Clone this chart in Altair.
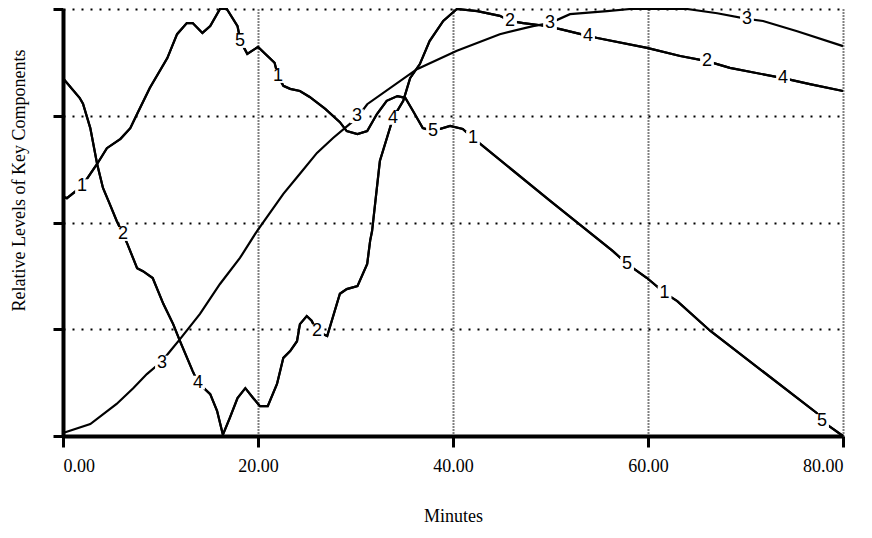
import altair as alt
import pandas as pd

# Curve shared by series 1 and 5
minutes_15 = [0, 0.4, 1.95, 2.8, 3.5, 4.5, 5.9, 6.9, 7.6, 8.9, 10.7, 11.7, 12.7, 13.3, 14.3, 15.1,
              16.1, 16.8, 17.9, 18.2, 18.9, 20.0, 21.7, 22.05, 22.6, 23.3, 24.3, 25.3, 26.9, 28.4,
              29.1, 30.2, 31.2, 32.2, 33.2, 34.3, 35.1, 35.9, 36.9, 37.95, 39.7, 41.0, 42.05, 42.8,
              50.0, 56.4, 57.85, 59.9, 61.7, 63.0, 66.4, 77.3, 77.85, 80]
values_15 = [0.56, 0.557, 0.585, 0.614, 0.637, 0.674, 0.696, 0.721, 0.754, 0.815, 0.885, 0.941, 0.967,
             0.967, 0.944, 0.960, 1.0, 1.0, 0.960, 0.925, 0.895, 0.911, 0.874, 0.843, 0.82, 0.813,
             0.808, 0.794, 0.766, 0.735, 0.714, 0.707, 0.714, 0.754, 0.785, 0.796, 0.792, 0.761,
             0.721, 0.714, 0.726, 0.719, 0.698, 0.684, 0.55, 0.433, 0.403, 0.37, 0.335, 0.316,
             0.246, 0.054, 0.035, 0.0]

# Curve shared by series 2 and 4
minutes_24 = [0, 1.7, 2.05, 2.8, 3.5, 4.1, 4.8, 5.5, 6.15, 6.6, 7.6, 8.2, 9.2, 10.3, 11.3, 12.0, 13.3,
              13.85, 15.1, 15.8, 16.4, 17.1, 17.9, 18.7, 19.5, 20.2, 21.0, 21.95, 22.6, 23.3, 24.0,
              24.3, 25.0, 25.5, 26.05, 27.1, 28.4, 29.1, 30.2, 31.2, 31.5, 31.7, 32.5, 33.85, 34.9,
              35.6, 36.6, 37.6, 39.0, 40.4, 42.5, 44.8, 45.85, 47.2, 49.0, 51.0, 53.85, 54.8, 59.9,
              63.3, 66.05, 68.4, 73.85, 76.6, 80]
values_24 = [0.838, 0.792, 0.778, 0.721, 0.637, 0.581, 0.543, 0.504, 0.473, 0.45, 0.393, 0.386, 0.37,
             0.309, 0.262, 0.222, 0.152, 0.125, 0.098, 0.059, 0.003, 0.042, 0.089, 0.112, 0.089,
             0.07, 0.07, 0.122, 0.183, 0.199, 0.222, 0.262, 0.281, 0.27, 0.245, 0.234, 0.333,
             0.344, 0.351, 0.403, 0.457, 0.48, 0.644, 0.745, 0.785, 0.838, 0.871, 0.925, 0.972,
             1.0, 0.995, 0.984, 0.972, 0.967, 0.962, 0.953, 0.937, 0.932, 0.909, 0.89, 0.878,
             0.862, 0.838, 0.824, 0.808]

# Series 3
minutes_3 = [0, 2.8, 5.5, 7.2, 8.6, 10.15, 11.0, 12.0, 14.05, 16.1, 18.15, 19.9, 22.6, 24.3, 26.05,
             27.7, 30.15, 31.2, 36.3, 40.4, 44.8, 48.2, 49.95, 52.0, 55.8, 58.2, 64.0, 67.1, 70.15,
             71.8, 75.3, 80]
values_3 = [0.007, 0.028, 0.075, 0.112, 0.145, 0.175, 0.199, 0.227, 0.286, 0.356, 0.417, 0.48, 0.567,
            0.614, 0.663, 0.698, 0.745, 0.777, 0.859, 0.902, 0.941, 0.96, 0.967, 0.988, 0.995, 1.0,
            1.0, 0.99, 0.977, 0.972, 0.948, 0.913]

# Curve number labels
label_text = ["1", "1", "1", "1", "2", "2", "2", "2", "3", "3", "3", "3",
              "4", "4", "4", "4", "5", "5", "5", "5"]
label_minute = [1.95, 22.05, 42.05, 61.7, 6.15, 26.05, 45.85, 66.05, 10.15, 30.15, 49.95, 70.15,
                13.85, 33.85, 53.85, 73.85, 18.15, 37.95, 57.85, 77.85]
label_value = [0.585, 0.843, 0.698, 0.335, 0.473, 0.245, 0.972, 0.878, 0.172, 0.749, 0.967, 0.977,
               0.125, 0.745, 0.937, 0.838, 0.925, 0.714, 0.403, 0.035]

x_ticks = [0, 20, 40, 60, 80]
y_ticks = [0, 0.25, 0.5, 0.75, 1.0]

rows = []
for s, xs, ys in [("1", minutes_15, values_15), ("5", minutes_15, values_15),
                  ("2", minutes_24, values_24), ("4", minutes_24, values_24),
                  ("3", minutes_3, values_3)]:
    for i, (x, y) in enumerate(zip(xs, ys)):
        rows.append({"series": s, "minute": x, "value": y, "order": i})
lines_df = pd.DataFrame(rows)
labels_df = pd.DataFrame({"label": label_text, "minute": label_minute, "value": label_value})

serif = "Liberation Serif"
x_scale = alt.Scale(domain=[0, 80], nice=False, zero=False)
y_scale = alt.Scale(domain=[0, 1], nice=False)

x_axis = alt.Axis(values=x_ticks, format=".2f", title="Minutes", grid=True, gridDash=[1, 2],
                  gridColor="black", gridWidth=2, gridOpacity=1, domainColor="black", domainWidth=4,
                  tickColor="black", tickWidth=3, tickSize=11, labelFont=serif, labelFontSize=18,
                  labelColor="black", labelPadding=10, titleFont=serif, titleFontSize=18,
                  titleFontWeight="normal", titleColor="black", titleY=80, titleBaseline="middle")
y_axis = alt.Axis(values=y_ticks, labels=False, title="Relative Levels of Key Components", grid=True,
                  gridDash=[2, 7], gridColor="black", gridWidth=2, gridOpacity=1, domainColor="black",
                  domainWidth=4, tickColor="black", tickWidth=3, tickSize=10, titleFont=serif,
                  titleFontSize=18, titleFontWeight="normal", titleColor="black", titleX=-44,
                  titleY=171, titleAngle=270, titleAlign="center", titleBaseline="middle")

lines = alt.Chart(lines_df).mark_line(color="black", strokeWidth=2.2).encode(
    x=alt.X("minute:Q", scale=x_scale, axis=x_axis),
    y=alt.Y("value:Q", scale=y_scale, axis=y_axis),
    detail="series:N",
    order="order:Q",
)

blank = alt.Chart(labels_df).mark_square(size=190, color="white", filled=True, opacity=1).encode(
    x=alt.X("minute:Q", scale=x_scale),
    y=alt.Y("value:Q", scale=y_scale),
)

texts = alt.Chart(labels_df).mark_text(font="Liberation Sans", fontSize=18, color="black",
                                       align="center", baseline="middle").encode(
    x=alt.X("minute:Q", scale=x_scale),
    y=alt.Y("value:Q", scale=y_scale),
    text="label:N",
)

chart = alt.layer(lines, blank, texts).properties(
    width=780, height=427,
    autosize=alt.AutoSizeParams(type="none"),
    padding={"left": 55, "top": 1, "right": 21, "bottom": 94},
    background="white",
).configure_view(stroke=None)

chart.save("out.html", embed_options={"renderer": "svg", "actions": False})
